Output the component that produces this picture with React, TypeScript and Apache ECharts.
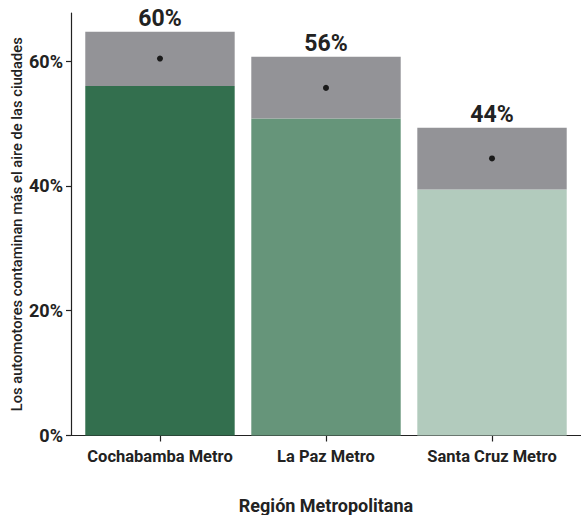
import React, { useEffect, useRef } from "react";
import * as echarts from "echarts";

const categories = ["Cochabamba Metro", "La Paz Metro", "Santa Cruz Metro"];
const estimates = [60.4, 55.7, 44.4];
const lowerCI = [56.0, 50.8, 39.4];
const upperCI = [64.7, 60.7, 49.3];
const barColors = ["#336f4e", "#66957a", "#b2cbbd"];
const yTicks = [0, 20, 40, 60];

export default function App() {
  const ref = useRef<HTMLDivElement>(null);
  useEffect(() => {
    if (!ref.current) return;
    const chart = echarts.init(ref.current, null, { renderer: "svg" });
    const data = categories.map((c, i) => [i, lowerCI[i], estimates[i], upperCI[i]]);
    chart.setOption({
      animation: false,
      grid: { left: 71, right: 0, top: 13, bottom: 79.5, containLabel: false, outerBoundsMode: "none" },
      xAxis: {
        type: "value",
        min: -0.536,
        max: 2.536,
        splitLine: { show: false },
        axisLine: { show: true, onZero: false, lineStyle: { color: "#222", width: 1.2 } },
        axisTick: { show: true, customValues: [0, 1, 2], length: 6, lineStyle: { color: "#222", width: 1.2 } },
        axisLabel: {
          customValues: [0, 1, 2],
          formatter: (v: number) => categories[Math.round(v)] ?? "",
          fontFamily: "Roboto",
          fontWeight: "bold",
          fontSize: 16.5,
          color: "#222",
          margin: 12,
        },
        name: "Región Metropolitana",
        nameLocation: "middle",
        nameGap: 61,
        nameMoveOverlap: false,
        nameTextStyle: { fontFamily: "Roboto", fontWeight: "bold", fontSize: 18, color: "#222" },
      },
      yAxis: {
        type: "value",
        min: 0,
        max: 67.7,
        splitLine: { show: false },
        axisLine: { show: true, onZero: false, lineStyle: { color: "#222", width: 1.2 } },
        axisTick: { show: true, customValues: yTicks, length: 5, lineStyle: { color: "#222", width: 1.2 } },
        axisLabel: {
          customValues: yTicks,
          formatter: (v: number) => `${v}%`,
          fontFamily: "Roboto",
          fontWeight: "bold",
          fontSize: 18,
          color: "#222",
          margin: 8,
        },
        name: "Los automotores contaminan más el aire de las ciudades",
        nameLocation: "middle",
        nameGap: 47,
        nameMoveOverlap: false,
        nameTextStyle: { fontFamily: "Roboto", fontWeight: 500, fontSize: 14.7, color: "#222" },
      },
      series: [
        {
          type: "custom",
          data,
          renderItem: (params: any, api: any) => {
            const i = api.value(0);
            const lo = api.value(1);
            const est = api.value(2);
            const up = api.value(3);
            const w = api.size([0.9, 0])[0];
            const base = api.coord([i, 0]);
            const pLo = api.coord([i, lo]);
            const pEst = api.coord([i, est]);
            const pUp = api.coord([i, up]);
            const x0 = base[0] - w / 2;
            return {
              type: "group",
              children: [
                { type: "rect", shape: { x: x0, y: pLo[1], width: w, height: base[1] - pLo[1] }, style: { fill: barColors[i] } },
                { type: "rect", shape: { x: x0, y: pUp[1], width: w, height: pLo[1] - pUp[1] }, style: { fill: "#939397" } },
                { type: "circle", shape: { cx: pEst[0], cy: pEst[1], r: 3 }, style: { fill: "#1a1a1a" } },
                {
                  type: "text",
                  x: pUp[0],
                  y: pUp[1] - 2,
                  style: {
                    text: `${Math.round(est)}%`,
                    fontFamily: "Roboto",
                    fontWeight: "bold",
                    fontSize: 23,
                    fill: "#222",
                    align: "center",
                    verticalAlign: "bottom",
                  },
                },
              ],
            };
          },
        },
      ],
    });
    return () => chart.dispose();
  }, []);
  return <div ref={ref} style={{ position: "fixed", left: 0, top: 0, width: 581, height: 515, background: "#fff" }} />;
}
